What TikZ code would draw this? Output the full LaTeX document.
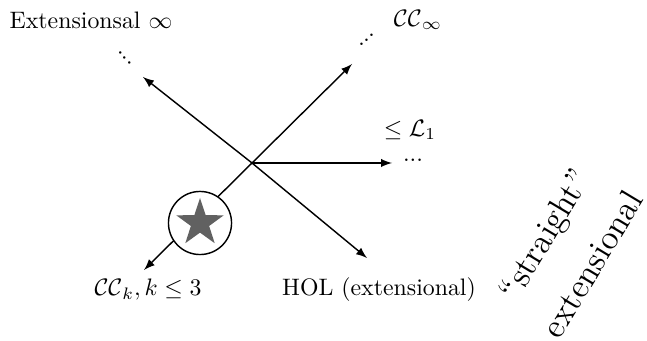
\documentclass[tikz,border=0pt]{standalone}
\usepackage{tikz}
\usetikzlibrary{shapes.geometric, arrows, positioning}
\usepackage{amsmath}

\begin{document}
\begin{tikzpicture}[x=0.42pt, y=-0.42pt, >=latex]
        \useasboundingbox (0,0) rectangle (647,341);

        % Axes
        \coordinate (o) at (252,163);
        \coordinate (nw) at (143,77);
        \coordinate (ne) at (352,64);
        \coordinate (e) at (392,163);
        \coordinate (se) at (367,258);
        \coordinate (sw) at (144,270);
        \draw[->, semithick] (o) -- (nw);
        \draw[->, semithick] (o) -- (ne);
        \draw[->, semithick] (o) -- (e);
        \draw[->, semithick] (o) -- (se);
        \draw[->, semithick] (o) -- (sw);

        % Star
        \node[draw, circle, semithick, fill=white, minimum size=26.5pt, inner sep=0pt] (ring) at (200,223) {};
        \node[star, star points=5, star point ratio=2.6, fill=black!62, minimum size=21pt, inner sep=0pt] (star) at (ring) {};

        % Labels
        \node (ext) at (91,20) {Extensionsal $\infty$};
        \node (ccinf) at (418,20) {$\mathcal{CC}_\infty$};
        \node[rotate=-45, inner sep=0pt] (dnw) at (125,58) {...};
        \node[rotate=45, inner sep=0pt] (dne) at (367,40) {...};
        \node (l1) at (410,130) {$\leq \mathcal{L}_1$};
        \node[inner sep=0pt] (de) at (413,160) {...};
        \node (cck) at (148,290) {$\mathcal{CC}_k, k \leq 3$};
        \node (hol) at (379,290) {HOL (extensional)};

        % Rotated
        \node[rotate=59, font=\Large] (str) at (547,236) {``straight''};
        \node[rotate=59, font=\Large] (extl) at (592,264) {extensional};
    \end{tikzpicture}
\end{document}
